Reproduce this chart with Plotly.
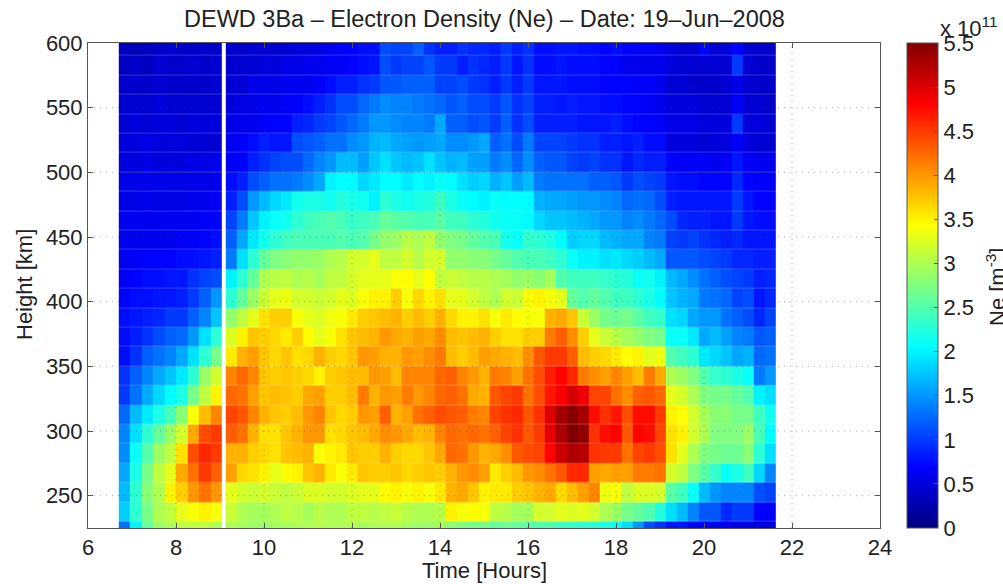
import plotly.graph_objects as go

title = "DEWD 3Ba \u2013 Electron Density (Ne) \u2013 Date: 19\u2013Jun\u20132008"
x_ticks = [6, 8, 10, 12, 14, 16, 18, 20, 22, 24]
y_ticks = [250, 300, 350, 400, 450, 500, 550, 600]
cb_ticks = [0, 0.5, 1, 1.5, 2, 2.5, 3, 3.5, 4, 4.5, 5, 5.5]
cb_labels = ["0", "0.5", "1", "1.5", "2", "2.5", "3", "3.5", "4", "4.5", "5", "5.5"]

# column edges in hours (the narrow 9.05-9.14 column is the data gap)
time_edges = [6.70, 6.96, 7.22, 7.48, 7.74, 8.00, 8.26, 8.52, 8.79, 9.05, 9.14,
              9.39, 9.64, 9.89, 10.14, 10.39, 10.64, 10.89, 11.14, 11.39, 11.64,
              11.89, 12.14, 12.39, 12.64, 12.89, 13.14, 13.39, 13.64, 13.89, 14.14,
              14.39, 14.64, 14.89, 15.14, 15.39, 15.64, 15.89, 16.14, 16.39, 16.64,
              16.89, 17.14, 17.39, 17.64, 17.89, 18.14, 18.39, 18.64, 18.89, 19.14,
              19.39, 19.64, 19.89, 20.14, 20.39, 20.64, 20.89, 21.14, 21.39, 21.64]
# row edges in km, top row first
height_edges = [605, 590, 575, 560, 545, 530, 515, 500, 485, 470, 455, 440, 425,
                410, 395, 380, 365, 350, 335, 320, 305, 290, 275, 260, 245, 230, 215]

# Ne in 1e11 m^-3, before the gap, top row first
ne_before_gap = [
    [.35,.30,.35,.40,.45,.40,.40,.40,.40],
    [.35,.40,.35,.45,.40,.40,.45,.40,.45],
    [.40,.40,.40,.45,.40,.40,.40,.40,.45],
    [.45,.45,.45,.50,.45,.45,.45,.45,.45],
    [.45,.50,.45,.50,.50,.45,.50,.50,.50],
    [.50,.50,.55,.50,.50,.50,.45,.45,.45],
    [.50,.50,.55,.50,.50,.50,.55,.55,.60],
    [.55,.55,.55,.55,.55,.55,.55,.55,.60],
    [.55,.55,.60,.55,.55,.55,.60,.60,.65],
    [.60,.60,.60,.60,.60,.60,.60,.65,.70],
    [.60,.60,.60,.60,.60,.65,.65,.70,.75],
    [.60,.65,.70,.70,.70,.75,.75,.80,.85],
    [.65,.70,.75,.75,.80,.80,.95,1.05,1.1],
    [.70,.75,.75,.80,.80,.85,1.0,1.2,1.5],
    [.75,.80,.85,.90,1.0,1.0,1.2,1.4,1.75],
    [.75,.85,.95,1.1,1.2,1.25,1.5,1.9,2.3],
    [.75,.95,1.2,1.3,1.4,1.6,1.9,2.3,2.7],
    [.95,1.2,1.4,1.6,1.75,1.95,2.3,2.9,3.2],
    [1.0,1.3,1.6,1.85,2.05,2.2,2.7,3.1,3.5],
    [1.25,1.7,1.95,2.2,2.45,2.8,3.4,3.8,4.1],
    [1.4,1.9,2.3,2.6,2.9,3.2,3.9,4.4,4.5],
    [1.45,2.1,2.5,2.9,3.1,3.6,4.4,4.6,4.5],
    [1.6,2.2,2.7,3.1,3.3,3.9,4.2,4.5,4.3],
    [1.7,2.3,2.8,3.0,3.5,3.7,4.0,4.2,4.0],
    [1.8,2.3,2.7,3.0,3.1,3.3,3.4,3.5,3.4],
    [1.3,2.0,2.6,2.9,3.0,3.1,3.1,3.1,3.0],
]

# Ne in 1e11 m^-3, after the gap, top row first
ne_after_gap = [
    [.40,.40,.45,.45,.45,.45,.50,.50,.55,.60, .65,.70,.75,.75,1.1,1.05,1.05,1.2,.95,.85, .85,.95,.90,.90,.85,1.0,.85,.95,.75,.75, .80,.80,.75,.75,.70,.75,.70,.65,.65,.60, .50,.45,.45,.70,.45,.50,.70,.45,.40,.40],
    [.40,.45,.45,.50,.50,.55,.55,.60,.60,.65, .65,.70,.75,.80,1.1,1.0,1.05,1.05,1.15,1.0, 1.0,.85,.95,.90,.85,1.0,.80,.95,.75,.75, .80,.75,.75,.75,.70,.70,.60,.60,.60,.60, .50,.45,.45,.45,.45,.45,1.0,.45,.40,.40],
    [.45,.45,.55,.55,.55,.60,.60,.60,.65,.75, .85,.85,.95,1.0,1.15,1.15,1.2,1.2,1.2,1.05, 1.05,1.1,1.0,.95,.85,1.0,.85,1.0,.80,.80, .80,.75,.75,.75,.70,.70,.70,.65,.65,.60, .45,.45,.40,.40,.40,.45,.55,.45,.40,.40],
    [.50,.55,.55,.60,.60,.65,.70,.75,.85,.95, 1.1,1.1,1.25,1.35,1.45,1.4,1.4,1.35,1.3,1.25, 1.15,1.2,1.1,1.1,1.0,1.15,.95,1.05,.85,.85, .80,.85,.80,.80,.75,.75,.70,.70,.65,.60, .50,.50,.50,.45,.45,.45,.65,.45,.45,.40],
    [.55,.60,.60,.65,.70,.70,.85,.90,1.0,1.05, 1.15,1.25,1.35,1.5,1.5,1.45,1.4,1.4,1.35,1.6, 1.2,1.2,1.1,1.15,1.0,1.2,.95,1.1,.85,.85, .85,.85,.80,.80,.80,.85,.75,.70,.70,.65, .55,.55,.55,.50,.50,.50,1.0,.50,.50,.45],
    [.60,.65,.75,.85,.80,.80,1.1,1.15,1.2,1.3, 1.3,1.45,1.5,1.65,1.7,1.6,1.55,1.5,1.55,1.6, 1.45,1.45,1.5,1.6,1.2,1.3,1.1,1.35,1.05,1.05, 1.05,1.0,.95,.95,.85,.85,.80,.85,.75,.75, .50,.50,.50,.45,.50,.50,.65,.50,.45,.45],
    [.65,.70,.85,.95,1.05,1.1,1.1,1.25,1.4,1.5, 1.7,1.7,1.55,1.75,1.9,1.75,1.7,1.75,1.9,1.75, 1.65,1.7,1.55,1.55,1.35,1.45,1.25,1.45,1.2,1.15, 1.15,1.05,1.0,1.05,.95,.95,.80,.90,.85,.85, .70,.65,.65,.65,.60,.65,.80,.65,.60,.60],
    [.75,.85,1.1,1.2,1.3,1.3,1.35,1.45,1.6,2.0, 2.05,2.05,1.85,1.95,2.05,2.05,1.95,2.05,2.0,2.1, 2.05,1.9,1.8,1.85,1.65,1.75,1.55,1.7,1.35,1.3, 1.3,1.3,1.3,1.2,1.2,1.15,1.0,1.1,1.05,1.0, .80,.75,.75,.70,.70,.70,.90,.70,.65,.65],
    [.85,1.1,1.5,1.7,1.85,1.95,2.15,2.2,2.2,2.15, 2.25,2.2,2.15,2.0,2.3,2.2,2.15,2.2,2.25,2.4, 2.2,2.1,2.05,2.0,2.1,2.05,2.05,2.05,1.65,1.6, 1.6,1.55,1.5,1.5,1.45,1.4,1.25,1.3,1.25,1.1, .85,.80,.80,.80,.80,.80,1.0,.80,.70,.70],
    [1.05,1.35,1.75,2.0,2.1,2.15,2.3,2.4,2.45,2.5, 2.45,2.35,2.4,2.45,2.6,2.55,2.5,2.45,2.45,2.55, 2.4,2.4,2.3,2.25,2.15,2.1,2.1,2.05,1.85,1.75, 1.75,1.7,1.65,1.6,1.5,1.5,1.4,1.45,1.35,1.25, 1.1,.90,.85,.85,.80,.80,1.0,.80,.75,.75],
    [1.2,1.6,1.95,2.15,2.3,2.4,2.45,2.45,2.45,2.45, 2.5,2.45,2.5,2.7,2.85,2.9,3.05,3.0,3.1,2.85, 2.75,2.7,2.6,2.5,2.45,2.15,2.1,2.35,2.3,2.2, 2.05,1.8,1.85,1.85,1.7,1.65,1.6,1.6,1.4,1.35, 1.05,1.0,1.05,.95,.90,.85,.90,.80,.80,.80],
    [1.35,1.9,2.3,2.6,2.75,2.8,2.85,2.85,2.9,3.0, 3.05,3.2,3.2,3.3,3.1,3.1,3.2,3.05,3.2,3.2, 2.85,2.85,2.8,2.8,2.7,2.6,2.5,2.45,2.45,2.4, 2.3,2.1,2.0,2.0,1.9,1.95,1.85,1.8,1.7,1.6, 1.15,1.15,1.15,1.1,1.05,1.0,.90,.90,.85,.85],
    [2.0,2.3,2.6,3.0,3.05,3.1,3.0,3.05,2.95,3.1, 3.1,3.2,3.3,3.3,3.3,3.4,3.45,3.3,3.45,3.1, 3.15,3.1,3.05,3.05,3.0,2.95,2.85,2.9,2.8,2.95, 2.5,2.4,2.4,2.4,2.35,2.3,2.25,2.1,2.15,2.0, 1.7,1.6,1.45,1.3,1.2,1.1,1.05,1.0,.85,.90],
    [2.3,2.6,2.9,3.15,3.3,3.35,3.2,3.2,3.15,3.2, 3.3,3.25,3.4,3.5,3.5,3.7,3.4,3.65,3.5,3.6, 3.3,3.3,3.2,3.1,3.0,3.2,3.15,3.4,3.5,3.4, 3.3,2.6,2.5,2.6,2.5,2.4,2.4,2.3,2.2,2.05, 1.75,1.65,1.6,1.35,1.3,1.25,1.05,1.1,.80,.90],
    [2.85,3.1,3.3,3.6,3.7,3.7,3.4,3.3,3.25,3.35, 3.4,3.55,3.7,3.75,3.8,3.85,3.7,3.8,3.7,3.85, 3.65,3.5,3.5,3.6,3.4,3.55,3.45,3.4,3.4,3.85, 3.9,3.75,3.15,2.9,2.7,2.65,2.7,2.55,2.4,2.35, 1.9,1.85,1.6,1.5,1.5,1.3,1.2,1.1,.90,1.05],
    [3.25,3.5,3.75,3.7,3.65,3.55,3.7,3.45,3.3,3.4, 3.6,3.75,3.8,3.85,4.0,3.9,3.85,3.95,3.9,4.05, 3.8,3.75,3.8,3.85,3.7,3.6,3.6,3.7,3.7,4.15, 4.3,4.05,3.7,3.3,3.15,3.05,2.95,2.85,2.75,2.7, 2.1,2.1,1.95,1.6,1.7,1.55,1.4,1.35,1.15,1.2],
    [3.55,3.85,3.95,3.75,3.65,3.75,3.6,3.65,3.85,3.7, 3.65,3.75,4.0,3.95,3.85,3.85,4.0,3.95,4.05,4.15, 3.8,3.7,3.8,3.95,3.9,3.85,3.8,4.05,4.35,4.5, 4.5,4.3,3.8,3.7,3.65,3.55,3.45,3.5,3.3,3.35, 2.5,2.4,2.3,1.95,1.85,1.75,1.6,1.65,1.25,1.3],
    [4.1,4.25,4.1,3.75,3.7,3.75,3.7,3.65,3.5,3.7, 3.75,3.8,3.8,4.0,3.95,3.8,4.1,4.1,4.1,4.25, 4.3,4.1,4.0,3.85,4.15,4.1,3.95,4.2,4.4,4.65, 4.8,4.6,4.15,4.05,3.95,4.1,3.95,3.8,4.15,3.9, 3.0,2.9,2.75,2.5,2.35,2.3,2.2,2.1,1.35,1.5],
    [4.25,4.2,3.95,3.75,3.8,3.75,3.7,3.9,3.95,3.7, 3.7,3.8,4.15,3.85,4.0,3.95,4.15,4.0,4.1,4.25, 4.3,4.2,3.9,3.85,4.35,4.45,4.5,4.2,4.4,4.7, 4.85,5.05,4.9,4.45,4.45,4.2,4.05,4.3,4.35,4.25, 3.3,3.2,3.0,2.75,2.7,2.7,2.6,2.5,2.0,1.9],
    [4.45,4.35,4.1,3.85,3.75,3.7,3.8,4.0,4.1,3.75, 3.65,3.7,4.0,3.95,4.3,3.85,3.95,4.2,4.3,4.4, 4.35,4.3,4.15,4.1,4.45,4.55,4.6,4.35,4.55,5.0, 5.3,5.45,5.3,4.75,4.55,4.7,4.4,4.75,4.75,4.5, 3.5,3.45,3.2,2.95,2.8,2.8,2.7,2.7,2.4,2.15],
    [4.3,4.2,3.85,3.6,3.6,3.75,3.85,4.0,4.0,3.6, 3.65,3.75,3.8,3.9,4.05,4.0,3.9,3.8,3.85,4.1, 4.25,4.2,4.25,4.2,4.3,4.45,4.55,4.35,4.5,4.95, 5.25,5.5,5.4,4.55,4.75,4.8,4.35,4.8,4.75,4.45, 3.6,3.5,3.2,3.0,2.75,2.75,2.75,2.9,2.45,2.05],
    [3.85,3.85,3.7,3.65,3.6,3.75,3.8,3.85,3.4,3.5, 3.55,3.75,3.7,3.7,3.85,3.7,3.65,3.65,3.75,3.9, 4.25,4.2,4.0,3.85,3.9,4.05,4.35,4.4,4.45,4.8, 5.1,5.25,5.2,4.55,4.5,4.5,4.2,4.45,4.5,4.4, 3.6,3.3,3.0,2.75,2.7,2.65,2.65,2.8,2.3,1.9],
    [3.95,3.65,3.6,3.5,3.3,3.45,3.5,3.75,3.85,3.55, 3.4,3.55,3.75,3.7,3.7,3.75,3.65,3.7,3.75,3.7, 3.85,4.0,4.05,3.95,3.55,3.7,3.8,4.0,4.05,4.2, 4.35,4.6,4.6,3.95,3.9,3.95,3.95,4.15,4.15,4.2, 3.2,3.1,2.75,2.55,2.35,2.1,2.2,2.4,1.85,1.4],
    [3.3,3.2,3.15,3.2,3.15,3.1,3.15,3.25,3.25,3.2, 3.2,3.25,3.3,3.3,3.45,3.5,3.4,3.5,3.4,3.55, 3.85,3.9,3.75,3.5,3.55,3.55,3.7,3.75,3.85,3.9, 3.65,3.8,3.95,4.1,3.35,3.4,3.1,3.25,3.25,3.2, 2.55,2.4,2.1,1.7,1.5,1.4,1.4,1.4,1.1,1.05],
    [3.15,3.0,2.95,2.95,3.0,3.1,3.05,2.95,3.05,3.0, 3.0,3.1,3.1,3.05,3.1,3.15,3.05,3.0,3.0,3.05, 3.5,3.4,3.45,3.4,3.1,3.05,2.95,2.95,3.2,3.2, 3.3,3.25,3.3,3.2,3.0,2.9,2.7,2.6,2.5,2.25, 1.9,1.7,1.4,1.15,1.15,.90,1.0,1.0,.70,.65],
    [3.0,2.95,2.9,2.9,2.95,2.95,3.0,3.0,3.05,3.0, 3.0,3.0,2.95,3.0,3.0,3.0,2.95,2.9,2.9,2.95, 2.8,2.75,2.7,2.7,2.6,2.65,2.6,2.55,2.5,2.5, 2.4,2.35,2.3,2.3,2.2,2.1,1.9,1.5,1.1,.95, .80,.80,.70,.70,.65,.65,.60,.60,.55,.50],
]

z_top_first = [a + [None] + b for a, b in zip(ne_before_gap, ne_after_gap)]
assert all(len(r) == len(time_edges) - 1 for r in z_top_first)
assert len(z_top_first) == len(height_edges) - 1

jet = [[0, "rgb(0,0,128)"], [0.125, "rgb(0,0,255)"], [0.375, "rgb(0,255,255)"],
       [0.625, "rgb(255,255,0)"], [0.875, "rgb(255,0,0)"], [1, "rgb(128,0,0)"]]

FONT = "Liberation Sans"
INK = "#222222"
AX = "#555555"
W, H = 1003, 584
L, R, T, B = 88, 880, 43, 528
TICK_SIZE = 22


def px(x):
    return (x - L) / (R - L)


def py(y):
    return (B - y) / (B - T)


fig = go.Figure(go.Heatmap(
    x=time_edges, y=height_edges[::-1], z=z_top_first[::-1],
    zmin=0, zmax=5.5, colorscale=jet, hoverongaps=False, ygap=0.2,
    colorbar=dict(
        x=px(907), xanchor="left", xpad=0, y=0, yanchor="bottom", ypad=0,
        len=1, lenmode="fraction", thickness=31, thicknessmode="pixels",
        outlinewidth=1, outlinecolor=AX,
        tickmode="array", tickvals=cb_ticks, ticktext=cb_labels,
        ticks="inside", ticklen=4, tickcolor=AX, tickwidth=1,
        tickfont=dict(family=FONT, size=TICK_SIZE, color=INK),
    ),
))

axis = dict(ticks="inside", ticklen=5, tickcolor=AX, linecolor=AX, linewidth=1,
            mirror="ticks", showgrid=False, zeroline=False, layer="above traces",
            tickfont=dict(family=FONT, size=TICK_SIZE, color=INK))

fig.update_layout(
    width=W, height=H, autosize=False,
    margin=dict(l=L, r=W - R, t=T, b=H - B, pad=0),
    paper_bgcolor="white", plot_bgcolor="white",
    showlegend=False,
    xaxis=dict(axis, range=[6, 24], tickmode="array", tickvals=x_ticks),
    yaxis=dict(axis, range=[225, 600], tickmode="array", tickvals=y_ticks),
)

grid = dict(color="rgba(70,70,70,0.45)", width=1, dash="1px,5px")
shapes = []
for t in x_ticks[1:-1]:
    shapes.append(dict(type="line", xref="x", yref="paper", x0=t, x1=t, y0=0, y1=1,
                       line=grid, layer="above"))
for h in y_ticks[:-1]:
    shapes.append(dict(type="line", xref="paper", yref="y", x0=0, x1=1, y0=h, y1=h,
                       line=grid, layer="above"))
fig.update_layout(shapes=shapes)


def note(text, x, y, size, angle=0, xanchor="center"):
    fig.add_annotation(text=text, xref="paper", yref="paper", x=px(x), y=py(y),
                       showarrow=False, xanchor=xanchor, yanchor="middle",
                       textangle=angle, font=dict(family=FONT, size=size, color=INK))


note(title, 484, 19, 23.5)
note("Time [Hours]", 484, 570, 22)
note("Height [km]", 24, 285, 22, angle=-90)
note("x 10<sup>11</sup>", 938, 27, 22, xanchor="left")
note("Ne [m<sup>-3</sup>]", 996, 287, 22, angle=-90)

fig.write_html("out.html", config=dict(displayModeBar=False),
               post_script="document.body.style.margin='0';document.body.style.overflow='hidden';")
